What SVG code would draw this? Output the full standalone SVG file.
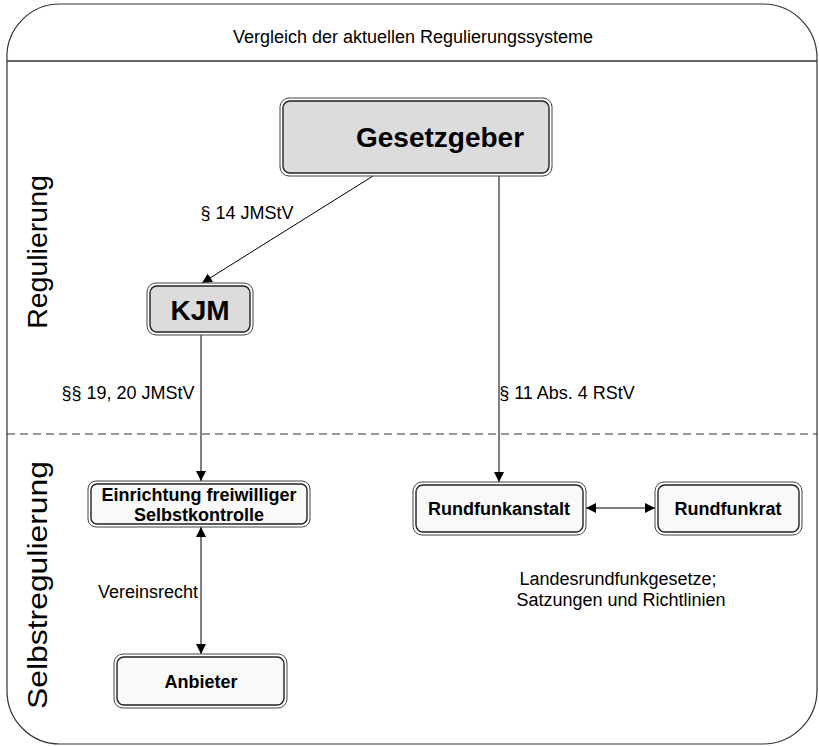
<svg xmlns="http://www.w3.org/2000/svg" width="819" height="746" viewBox="0 0 819 746">
<style>
text{font-family:"Liberation Sans",Arial,sans-serif;fill:#000}
.lbl{font-size:18px}
.side{font-size:28.5px}
.bo{fill:none;stroke:#444;stroke-width:1}
.bi{stroke:#222;stroke-width:1.4}
.grey{fill:#dcdcdc}
.light{fill:#f8f9f8}
.big{font-size:28px;font-weight:bold}
.sm{font-size:18px;font-weight:bold}
.conn{stroke:#000;stroke-width:1;fill:none}
</style>
<defs>
<marker id="ah" viewBox="0 0 10 10" refX="10" refY="5" markerWidth="10" markerHeight="10" markerUnits="userSpaceOnUse" orient="auto-start-reverse">
<path d="M0,0 L10,5 L0,10 z" fill="#000"/>
</marker>
</defs>
<rect width="819" height="746" fill="#fff"/>
<g id="frame">
<path d="M7,60 A53,53 0 0 1 60,4 L763,4 A54,54 0 0 1 817,58 L817,690 A54,54 0 0 1 763,744 L60,744 A53,53 0 0 1 7,691 Z" fill="none" stroke="#333" stroke-width="1.2"/>
<line x1="7" y1="61" x2="817" y2="61" stroke="#333" stroke-width="1.5"/>
<line x1="7" y1="434" x2="817" y2="434" stroke="#333" stroke-width="1" stroke-dasharray="8,5"/>
<text class="lbl" x="413" y="43" text-anchor="middle">Vergleich der aktuellen Regulierungssysteme</text>
<text class="side" transform="translate(47,252) rotate(-90)" text-anchor="middle">Regulierung</text>
<text class="side" transform="translate(47,585) rotate(-90)" text-anchor="middle" textLength="248" lengthAdjust="spacingAndGlyphs">Selbstregulierung</text>
</g>
<g id="connectors">
<line class="conn" x1="373" y1="176" x2="202" y2="283" marker-end="url(#ah)"/>
<line class="conn" x1="201" y1="335" x2="201" y2="481" marker-end="url(#ah)"/>
<line class="conn" x1="499" y1="176" x2="499" y2="482" marker-end="url(#ah)"/>
<line class="conn" x1="201" y1="527" x2="201" y2="654" marker-start="url(#ah)" marker-end="url(#ah)"/>
<line class="conn" x1="586" y1="508" x2="655" y2="508" marker-start="url(#ah)" marker-end="url(#ah)"/>
<text class="lbl" x="247" y="219" text-anchor="middle">§ 14 JMStV</text>
<text class="lbl" x="128" y="399" text-anchor="middle">§§ 19, 20 JMStV</text>
<text class="lbl" x="567" y="399" text-anchor="middle">§ 11 Abs. 4 RStV</text>
<text class="lbl" x="148" y="598" text-anchor="middle">Vereinsrecht</text>
<text class="lbl" x="618" y="585" text-anchor="middle">Landesrundfunkgesetze;</text>
<text class="lbl" x="621" y="606" text-anchor="middle">Satzungen und Richtlinien</text>
</g>
<g id="gesetzgeber">
<rect class="bo" x="280" y="98" width="272" height="78" rx="9"/>
<rect class="bi grey" x="283" y="101" width="266" height="72" rx="7"/>
<text class="big" x="440" y="147" text-anchor="middle">Gesetzgeber</text>
</g>
<g id="kjm">
<rect class="bo" x="147" y="283" width="106" height="52" rx="9"/>
<rect class="bi grey" x="150" y="286" width="100" height="46" rx="7"/>
<text class="big" x="200" y="320" text-anchor="middle">KJM</text>
</g>
<g id="einrichtung">
<rect class="bo" x="88" y="481" width="222" height="46" rx="8"/>
<rect class="bi light" x="91" y="484" width="216" height="40" rx="6"/>
<text class="sm" x="199" y="501" text-anchor="middle">Einrichtung freiwilliger</text>
<text class="sm" x="199" y="521" text-anchor="middle">Selbstkontrolle</text>
</g>
<g id="rundfunkanstalt">
<rect class="bo" x="413" y="482" width="173" height="53" rx="9"/>
<rect class="bi light" x="416" y="485" width="167" height="47" rx="7"/>
<text class="sm" x="499" y="515" text-anchor="middle">Rundfunkanstalt</text>
</g>
<g id="rundfunkrat">
<rect class="bo" x="655" y="482" width="147" height="53" rx="9"/>
<rect class="bi light" x="658" y="485" width="141" height="47" rx="7"/>
<text class="sm" x="728" y="515" text-anchor="middle">Rundfunkrat</text>
</g>
<g id="anbieter">
<rect class="bo" x="114" y="654" width="173" height="54" rx="9"/>
<rect class="bi light" x="117" y="657" width="167" height="48" rx="7"/>
<text class="sm" x="201" y="688" text-anchor="middle">Anbieter</text>
</g>
</svg>
